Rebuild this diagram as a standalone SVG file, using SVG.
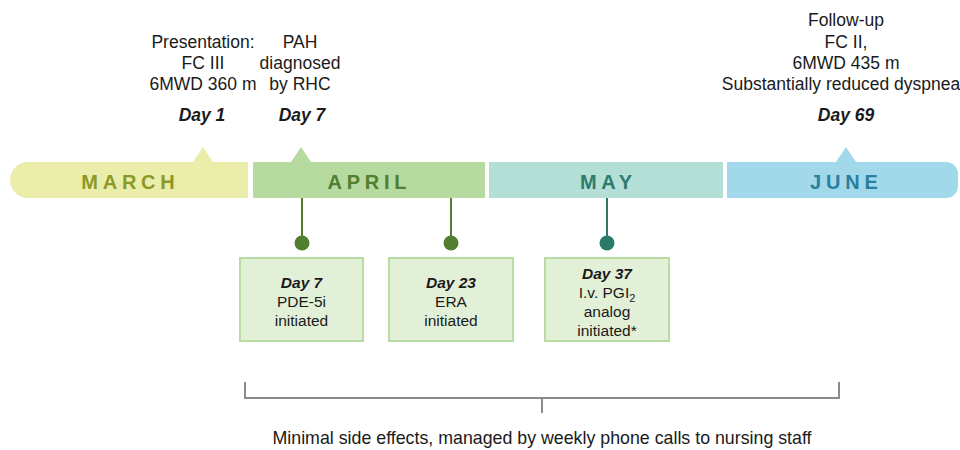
<svg xmlns="http://www.w3.org/2000/svg" width="960" height="450" viewBox="0 0 960 450">
<style>
text{font-family:"Liberation Sans",Arial,sans-serif;fill:#1a1a1a}
.t{font-size:17.5px;text-anchor:middle}
.d{font-size:17.5px;font-weight:bold;font-style:italic;text-anchor:middle}
.m{font-size:20px;font-weight:bold;letter-spacing:4.8px;text-anchor:middle}
.bt{font-size:15.5px;text-anchor:middle}
.bd{font-size:15.5px;font-weight:bold;font-style:italic;text-anchor:middle}
.box{fill:#e3f0d8;stroke:#b9dca4;stroke-width:2}
.stem{stroke-width:2;fill:none}
.br{stroke:#8c8c8c;stroke-width:2;fill:none}
</style>
<rect width="960" height="450" fill="#ffffff"/>

<g id="top-labels">
<text class="t" x="203" y="48">Presentation:</text>
<text class="t" x="203" y="69">FC III</text>
<text class="t" x="203" y="90">6MWD 360 m</text>
<text class="d" x="202" y="121">Day 1</text>
<text class="t" x="300" y="48">PAH</text>
<text class="t" x="300" y="69">diagnosed</text>
<text class="t" x="300" y="90">by RHC</text>
<text class="d" x="302" y="121">Day 7</text>
<text class="t" x="846" y="26">Follow-up</text>
<text class="t" x="846" y="48">FC II,</text>
<text class="t" x="846" y="69">6MWD 435 m</text>
<text class="t" x="841" y="90">Substantially reduced dyspnea</text>
<text class="d" x="846" y="121">Day 69</text>
</g>

<g id="march">
<path d="M28,162 H193 L203,147 L213,162 H248 V198 H28 A18,18 0 0 1 28,162 Z" fill="#ebedab"/>
<text class="m" x="130.4" y="189" style="fill:#8b9a27">MARCH</text>
</g>
<g id="april">
<path d="M253,162 H291 L301,147 L311,162 H485 V198 H253 Z" fill="#b6da9f"/>
<text class="m" x="369.4" y="189" style="fill:#4f7f2f">APRIL</text>
</g>
<g id="may">
<rect x="489" y="162" width="234" height="36" fill="#b3dfd7"/>
<text class="m" x="608.4" y="189" style="fill:#2e7b6c">MAY</text>
</g>
<g id="june">
<path d="M727,162 H836 L846,147 L856,162 H946 A12,12 0 0 1 958,174 V186 A12,12 0 0 1 946,198 H727 Z" fill="#a1d8ea"/>
<text class="m" x="846.4" y="189" style="fill:#2a7f9e">JUNE</text>
</g>

<g id="connectors">
<line class="stem" x1="302" y1="198" x2="302" y2="243" stroke="#4f7f2f"/>
<circle cx="302" cy="243" r="7.5" fill="#4f7f2f"/>
<line class="stem" x1="451" y1="198" x2="451" y2="243" stroke="#4f7f2f"/>
<circle cx="451" cy="243" r="7.5" fill="#4f7f2f"/>
<line class="stem" x1="607" y1="198" x2="607" y2="243" stroke="#2a7a6c"/>
<circle cx="607" cy="243" r="7.5" fill="#2a7a6c"/>
<path class="br" d="M245,382 V398 H839 V382 M542,398 V413"/>
</g>

<g id="box-day7">
<rect class="box" x="240" y="258" width="123" height="83"/>
<text class="bd" x="301.5" y="288">Day 7</text>
<text class="bt" x="301.5" y="307">PDE-5i</text>
<text class="bt" x="301.5" y="326">initiated</text>
</g>
<g id="box-day23">
<rect class="box" x="389" y="258" width="124" height="83"/>
<text class="bd" x="451" y="288">Day 23</text>
<text class="bt" x="451" y="307">ERA</text>
<text class="bt" x="451" y="326">initiated</text>
</g>
<g id="box-day37">
<rect class="box" x="545" y="258" width="124" height="83"/>
<text class="bd" x="607" y="279">Day 37</text>
<text class="bt" x="607" y="298">I.v. PGI<tspan font-size="11" dy="4">2</tspan></text>
<text class="bt" x="607" y="317">analog</text>
<text class="bt" x="607" y="336">initiated*</text>
</g>

<g id="bottom-label">
<text class="t" x="542" y="444" style="font-size:17.8px">Minimal side effects, managed by weekly phone calls to nursing staff</text>
</g>
</svg>
